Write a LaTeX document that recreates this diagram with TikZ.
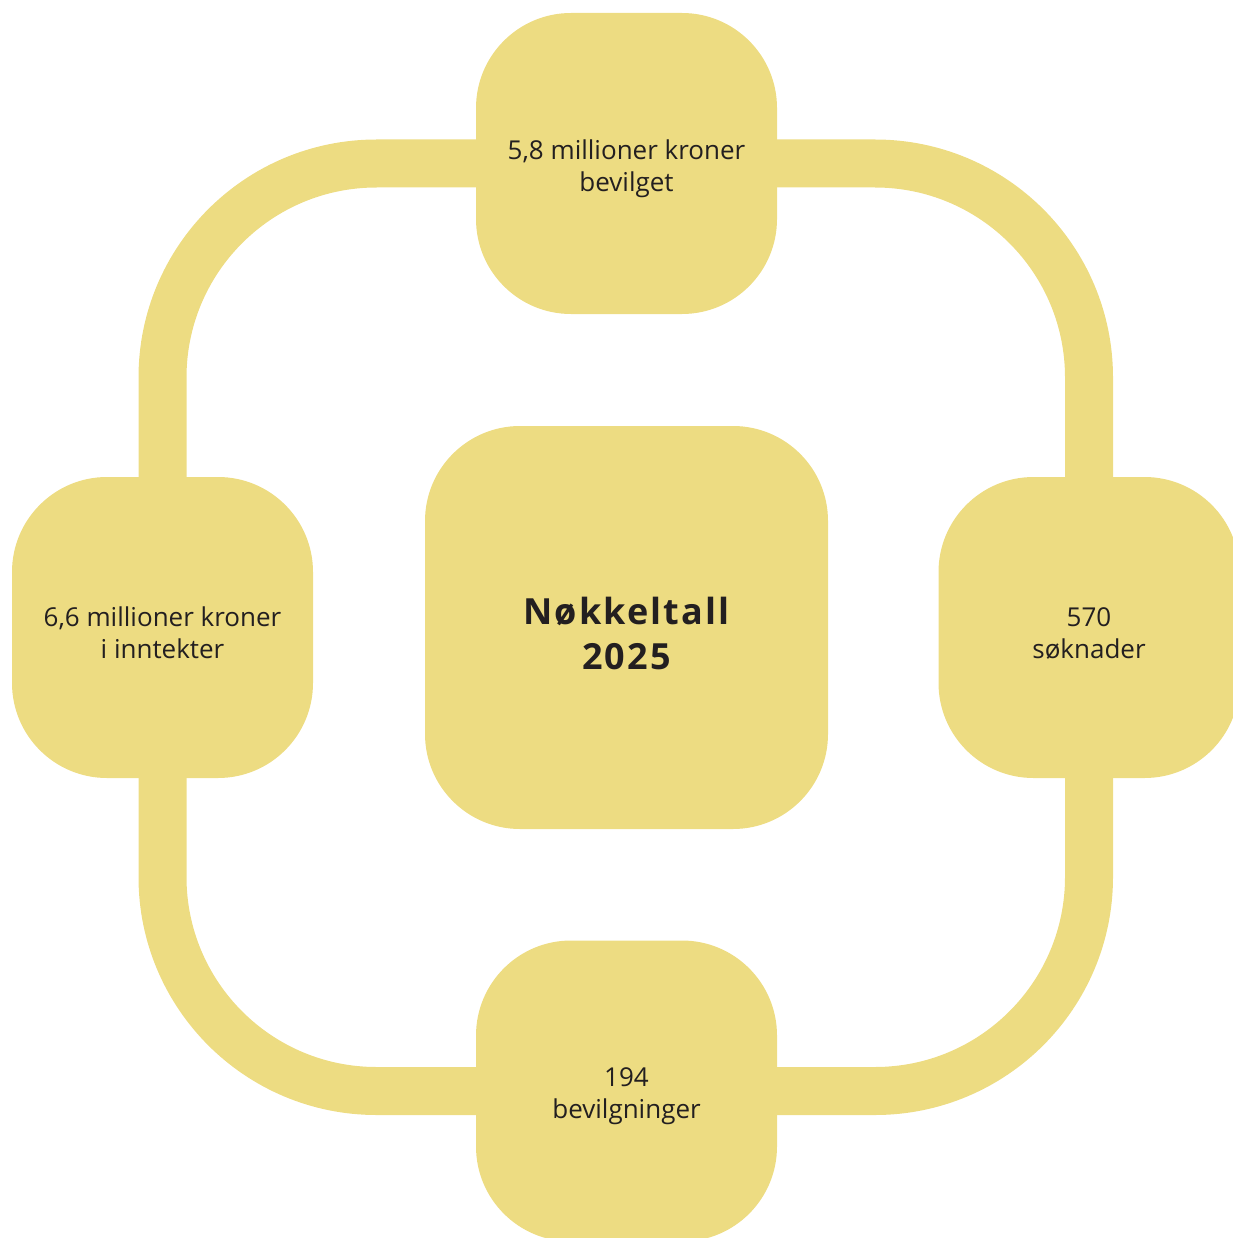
\documentclass[tikz,border=0pt]{standalone}
\usepackage{fontspec}
\setmainfont{Open Sans}
\usetikzlibrary{backgrounds}
\definecolor{sand}{RGB}{237,220,130}
\definecolor{ink}{RGB}{35,31,32}
\newcommand{\topgap}[1]{\rule{0pt}{#1}}

\begin{document}
\begin{tikzpicture}[x=1pt, y=-1pt,
        box/.style={rectangle, rounded corners=95pt, fill=sand, minimum size=301pt,
            inner sep=0pt, align=center, text=ink, font=\fontsize{26}{32}\selectfont},
        keybox/.style={box, minimum size=403pt,
            font=\fontsize{36}{45}\selectfont\bfseries\addfontfeatures{LetterSpace=6}},
        ring/.style={draw=sand, line width=48pt, rounded corners=214pt}]
    \useasboundingbox (0,0) rectangle (1232,1238);

    \node[keybox] (key) at (626.5,627.5) {\topgap{40pt}Nøkkeltall\\2025};
    \node[box] (top) at (626.5,163.5) {\topgap{30pt}5,8 millioner kroner\\bevilget};
    \node[box] (right) at (1089,627.5) {\topgap{30pt}570\\søknader};
    \node[box] (bottom) at (626.5,1091) {\topgap{30pt}194\\bevilgninger};
    \node[box] (left) at (162.5,627.5) {\topgap{30pt}6,6 millioner kroner\\i inntekter};

    \begin{scope}[on background layer]
        \draw[ring] (top.center) -| (right.center) |- (bottom.center)
            -| (left.center) |- (top.center);
    \end{scope}
\end{tikzpicture}
\end{document}
